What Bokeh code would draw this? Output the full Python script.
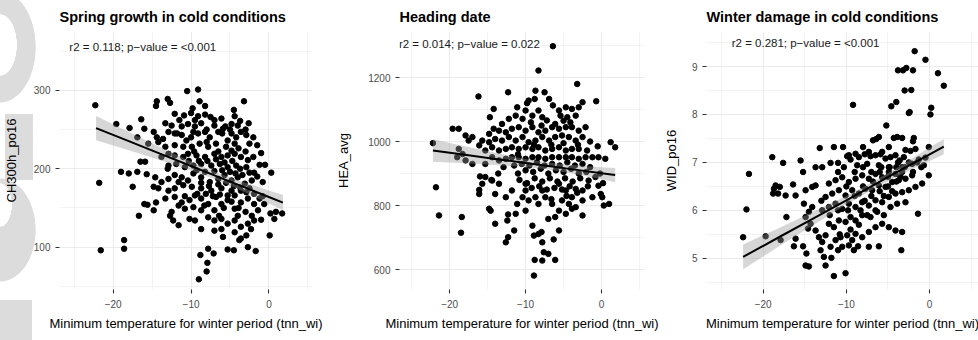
from bokeh.plotting import figure
from bokeh.layouts import row
from bokeh.models import FixedTicker, Label, Range1d
from bokeh.embed import file_html
from bokeh.resources import INLINE

FONT = "Liberation Sans"

# ---------------- data ----------------
x_ticks = [-20, -10, 0]
x_minor = [-25, -15, -5, 5]
x_tick_labels = {-20: "\u221220", -10: "\u221210", 0: "0"}

# Panel 1: CH300h_po16
p1_x = [-10.5, -9.1, -14.4, -14.5, -13.0, -12.7, -8.9, -8.2, -3.2, -9.8,
        -4.5, -22.3, -12.1, -13.3, -10.9, -10.0, -9.1, -8.2, -7.5, -7.0,
        -6.1, -4.4, -3.7, -2.6, -4.8, -5.6, -8.7, -9.5, -10.4, -11.2,
        -12.5, -16.4, -19.6, -17.9, -16.0, -14.8, -14.4, -12.9, -12.1, -11.2,
        -10.6, -9.7, -9.1, -8.2, -7.6, -6.5, -5.9, -4.8, -4.2, -3.6,
        -2.9, -2.5, -4.4, -5.3, -6.8, -8.0, -8.9, -9.9, -11.0, -12.1,
        -13.3, -14.2, -15.5, -16.9, -13.8, -12.9, -12.1, -11.0, -10.4, -9.3,
        -8.2, -7.0, -6.1, -5.3, -4.4, -3.6, -2.7, -2.9, -4.2, -5.3,
        -6.3, -7.4, -8.7, -9.7, -10.8, -11.9, -12.9, -15.9, -16.5, -19.0,
        -18.0, -16.9, -15.7, -14.6, -13.8, -12.9, -12.1, -11.2, -10.4, -9.7,
        -8.7, -7.6, -6.5, -5.7, -4.8, -4.0, -3.1, -1.9, -0.8, -14.2,
        -14.8, -12.9, -12.1, -11.0, -9.9, -8.7, -7.4, -6.1, -4.8, -3.6,
        -2.5, -17.5, -16.0, -15.6, -14.5, -13.3, -12.5, -12.1, -11.2, -10.2,
        -9.5, -8.7, -7.8, -6.8, -6.1, -5.3, -4.4, -3.6, -2.7, -1.9,
        -1.2, -0.6, 0.2, 0.9, 1.7, -1.4, -4.4, -7.0, -8.7, -9.7,
        -10.8, -11.6, -14.8, -12.7, -11.6, -12.3, -10.2, -8.7, -9.5, -7.8,
        -7.0, -6.1, -5.3, -4.4, -3.6, -2.7, -2.3, -1.9, 0.7, 0.1,
        -5.9, -7.0, -4.4, -3.8, -3.6, -2.9, -6.1, -8.8, -7.8, -7.9,
        -8.0, -9.0, -7.1, -5.3, -4.5, -2.7, -1.7, -18.6, -18.6, -21.6,
        -21.8, -16.7, -9.5, -8.0, -7.0, -6.0, -5.0, -4.0, -3.0, -2.0,
        -1.5, -1.0, -0.5, 0.3, -11.5, -10.0, -7.8, -6.5, -5.5, -4.8,
        -3.9, -3.0, -2.0, -1.2, -9.0, -7.9, -6.8, -5.7, -4.7, -3.7,
        -2.5, -1.5, -9.3, -8.2, -7.0, -6.0, -5.0, -4.3, -3.4, -2.2,
        -8.7, -7.7, -6.5, -5.5, -4.5, -3.7, -2.9, -1.9, -0.8, -9.2,
        -8.1, -7.2, -6.3, -5.3, -4.8, -3.9, -3.0, -2.2, -1.0, -5.8,
        -4.0, -6.4, -8.3, -10.8, -11.6, -13.0, -10.3, -9.6, -11.8, -13.6]
p1_y = [299, 301, 286, 280, 289, 284, 286, 280, 286, 277,
        275, 281, 270, 258, 268, 271, 267, 269, 266, 262,
        264, 267, 261, 258, 257, 254, 258, 254, 257, 254,
        255, 263, 257, 252, 251, 247, 240, 247, 245, 243,
        236, 247, 245, 247, 240, 247, 251, 245, 240, 247,
        243, 232, 232, 236, 232, 234, 232, 228, 228, 230,
        228, 234, 232, 240, 215, 219, 217, 215, 219, 217,
        215, 219, 215, 217, 219, 215, 211, 202, 204, 202,
        206, 204, 206, 204, 202, 206, 204, 209, 209, 196,
        194, 196, 193, 189, 183, 187, 192, 189, 185, 194,
        189, 183, 187, 192, 185, 189, 181, 195, 183, 175,
        177, 172, 175, 179, 177, 175, 172, 175, 172, 172,
        175, 177, 155, 154, 157, 162, 145, 164, 157, 160,
        166, 162, 155, 164, 155, 160, 166, 157, 162, 155,
        162, 155, 143, 145, 143, 147, 149, 147, 147, 151,
        149, 153, 147, 140, 128, 134, 136, 123, 134, 138,
        134, 136, 130, 134, 126, 130, 123, 134, 136, 115,
        113, 121, 119, 109, 111, 115, 123, 90, 98, 80,
        69, 59, 92, 97, 96, 100, 95, 109, 98, 96,
        182, 140, 262, 250, 255, 245, 250, 255, 250, 240,
        230, 220, 205, 195, 262, 240, 228, 222, 228, 223,
        226, 222, 215, 205, 210, 210, 212, 208, 210, 200,
        195, 190, 198, 196, 197, 198, 196, 194, 192, 185,
        182, 178, 180, 182, 178, 176, 170, 168, 165, 168,
        168, 165, 167, 166, 158, 150, 145, 140, 135, 150,
        140, 140, 153, 165, 183, 200, 210, 222, 245, 238]
p1_fit_x = [-22.2, -18, -14, -10, -7, -4, 0, 1.8]
p1_fit_y = [251.8, 235.2, 219.3, 203.5, 191.6, 179.7, 163.9, 156.8]
p1_fit_lo = [236.4, 223.6, 211.0, 197.9, 186.8, 174.1, 155.6, 147.1]
p1_fit_hi = [267.2, 246.8, 227.6, 209.1, 196.4, 185.3, 172.2, 166.5]
p1_yticks = [100, 200, 300]
p1_yminor = [50, 150, 250, 350]

# Panel 2: HEA_avg
p2_x = [-6.4, -8.3, -16.2, -12.3, -14.2, -14.7, -11.1, -9.6, -8.7, -8.8,
        -7.5, -6.9, -6.4, -5.6, -4.7, -3.9, -3.0, -3.2, -2.5, -0.7,
        -3.4, -4.5, -5.4, -6.1, -7.2, -7.8, -8.3, -9.1, -10.0, -10.4,
        -11.3, -12.2, -13.1, -13.5, -14.2, -14.8, -12.6, -11.8, -10.9, -10.0,
        -9.1, -8.3, -7.4, -6.5, -5.6, -4.7, -3.9, -3.0, -2.1, -2.5,
        -3.4, -4.3, -5.2, -6.1, -6.9, -7.8, -8.7, -9.6, -10.4, -11.3,
        -12.2, -13.1, -14.0, -14.8, -15.7, -17.0, -17.5, -17.9, -18.8, -19.6,
        -22.2, -16.1, -15.3, -14.4, -13.5, -12.6, -11.8, -10.9, -10.0, -9.1,
        -8.3, -7.4, -6.5, -5.6, -4.7, -3.9, -3.0, -1.9, 1.2, 1.8,
        0.5, -0.4, -1.2, -2.1, -3.0, -3.9, -4.7, -5.6, -6.5, -7.4,
        -8.3, -9.1, -10.0, -10.9, -11.8, -12.6, -13.5, -14.4, -15.3, -17.0,
        -17.9, -18.3, -18.8, -19.0, -21.8, -21.4, -18.4, -18.5, -16.0, -15.7,
        -16.1, -14.8, -14.6, -14.0, -12.6, -12.3, -12.4, -12.3, -11.5, -11.3,
        -11.1, -10.0, -9.6, -9.1, -8.9, -8.9, -8.8, -8.3, -7.9, -7.8,
        -7.8, -7.6, -7.0, -6.1, -6.3, -5.6, -7.0, -6.1, -4.7, -3.9,
        -3.4, -2.5, -4.3, -5.2, -2.5, -1.2, -0.4, -0.1, 0.3, 1.0,
        -5.6, -7.8, -10.0, -11.8, -13.5, -14.4, -15.3, -16.1, -4.7, -3.4,
        -1.7, -0.8, 0.1, -2.5, -6.5, -8.3, -10.0, -12.6, -14.0, -10.4,
        -8.7, -7.4, -5.6, -3.9, -11.0, -10.0, -9.0, -8.0, -7.0, -6.0,
        -5.0, -4.0, -3.0, -2.0, -11.5, -10.5, -9.5, -8.5, -7.5, -6.5,
        -5.5, -4.5, -3.5, -2.5, -1.5, -10.8, -9.8, -8.8, -7.8, -6.8,
        -5.8, -4.8, -3.8, -2.8, -1.8, -9.2, -8.2, -7.2, -6.2, -5.2,
        -4.2, -3.2, -6.6, -4.6, -9.3, -7.9, -6.6, -5.0, -3.1, -8.9,
        -11.0, -12.9, -13.6, -14.5, -9.8, -5.0, -4.1, -1.5, -0.5, -0.2,
        0.2]
p2_y = [1298, 1222, 1141, 1154, 1102, 1076, 1107, 1128, 1159, 1133,
        1154, 1133, 1113, 1097, 1107, 1102, 1107, 1180, 1123, 1126,
        1081, 1076, 1081, 1055, 1066, 1076, 1097, 1081, 1097, 1071,
        1081, 1071, 1055, 1034, 1040, 1024, 1029, 1040, 1045, 1034,
        1045, 1029, 1034, 1045, 1040, 1045, 1045, 1034, 1045, 1014,
        1003, 1014, 1019, 1014, 1003, 1014, 1003, 998, 1014, 1003,
        1014, 1003, 1008, 998, 1003, 1014, 1003, 1019, 1040, 1040,
        995, 988, 972, 982, 972, 977, 982, 977, 982, 977,
        982, 972, 977, 982, 972, 977, 977, 972, 998, 982,
        946, 951, 951, 951, 946, 951, 951, 951, 951, 946,
        951, 951, 946, 951, 951, 946, 941, 951, 930, 930,
        941, 961, 977, 951, 857, 769, 764, 715, 891, 868,
        849, 790, 784, 743, 685, 701, 753, 772, 722, 774,
        805, 784, 816, 737, 706, 581, 630, 711, 717, 685,
        628, 654, 649, 630, 694, 722, 758, 764, 774, 790,
        795, 769, 805, 816, 816, 826, 862, 836, 800, 805,
        868, 847, 847, 847, 868, 878, 889, 836, 847, 852,
        878, 889, 826, 847, 805, 805, 868, 826, 836, 826,
        826, 826, 784, 826, 900, 910, 905, 915, 900, 910,
        905, 915, 900, 905, 925, 930, 925, 935, 925, 930,
        925, 935, 925, 930, 920, 880, 870, 885, 875, 885,
        875, 885, 875, 885, 860, 855, 860, 850, 855, 850,
        860, 840, 820, 830, 1060, 1050, 990, 995, 990, 990,
        960, 920, 900, 880, 1120, 1065, 1060, 1000, 985, 900,
        870]
p2_fit_x = [-22.2, -18, -14, -10, -7, -4, 0, 1.8]
p2_fit_y = [972.0, 958.6, 945.8, 933.0, 923.4, 913.8, 901.0, 895.2]
p2_fit_lo = [936.8, 932.0, 926.9, 920.2, 912.4, 901.0, 882.1, 873.0]
p2_fit_hi = [1007.2, 985.2, 964.7, 945.8, 934.4, 926.6, 919.9, 917.4]
p2_yticks = [600, 800, 1000, 1200]
p2_yminor = [700, 900, 1100, 1300]

# Panel 3: WID_po16
p3_x = [-1.8, -0.5, 1.0, 1.7, -3.8, -3.2, -2.8, -2.0, -3.0, -2.2,
        -4.0, -4.6, -2.5, -2.4, 0.2, 0.1, -9.2, -5.2, -4.3, -3.9,
        -3.3, -1.9, -2.0, -6.8, -6.4, -6.1, -8.0, -1.7, -2.3, -2.9,
        -0.1, -10.4, -11.5, -13.2, -15.5, -18.9, -17.6, -4.9, -5.7, -7.3,
        -8.9, -9.7, -11.9, -11.0, -9.9, -9.5, -8.5, -7.8, -7.1, -6.5,
        -5.9, -5.3, -4.7, -4.1, -3.6, -3.1, -1.3, -0.7, -13.7, -12.9,
        -10.3, -8.7, -7.5, -6.1, -4.9, -3.3, -2.1, -21.7, -22.0, -22.4,
        -19.7, -17.9, -18.7, -18.5, -18.0, -18.8, -18.2, -17.3, -16.4, -16.1,
        -15.2, -17.2, -16.3, -15.2, -16.1, -14.8, -14.9, -14.5, -11.5, -10.1,
        -1.4, -3.4, -0.1, -14.9, -14.1, -13.7, -15.1, -14.5, -14.1, -14.9,
        -14.3, -14.6, -13.7, -13.3, -12.9, -12.5, -13.1, -12.7, -12.5, -11.8,
        -11.0, -10.5, -9.7, -9.1, -8.6, -7.3, -6.1, -11.9, -11.3, -10.7,
        -9.9, -9.3, -8.9, -8.1, -7.3, -6.5, -5.7, -4.9, -4.1, -3.3,
        -12.1, -11.5, -10.9, -10.1, -9.5, -8.9, -8.1, -7.1, -6.3, -5.5,
        -4.7, -3.9, -2.9, -12.9, -12.1, -11.3, -10.5, -9.7, -8.9, -8.1,
        -7.3, -6.5, -5.7, -4.9, -4.1, -3.3, -2.5, -1.7, -0.9, -12.5,
        -11.7, -10.9, -10.1, -9.3, -8.5, -7.7, -6.9, -6.1, -5.3, -4.5,
        -3.7, -2.9, -2.1, -12.1, -11.3, -10.5, -9.7, -8.9, -8.1, -7.3,
        -6.5, -5.7, -4.9, -4.1, -3.3, -9.0, -8.0, -7.0, -6.0, -5.0,
        -4.0, -3.0, -2.5, -10.0, -11.0, -9.5, -8.5, -7.5, -6.5, -5.5,
        -4.5, -3.5, -2.0, -1.0, -9.8, -8.3, -7.8, -6.8, -5.8, -4.8,
        -3.8, -1.5, -0.5, -10.8, -12.0, -13.0, -11.0, -9.0, -8.0, -7.0,
        -6.0, -5.0, -4.0]
p3_y = [9.32, 9.14, 8.86, 8.60, 8.92, 8.92, 8.97, 8.92, 8.50, 8.51,
        8.26, 8.17, 8.03, 8.05, 8.14, 8.00, 8.20, 7.77, 7.51, 7.53,
        7.51, 7.51, 7.44, 7.46, 7.49, 7.53, 7.32, 7.28, 7.24, 7.26,
        7.32, 7.32, 7.32, 7.30, 7.04, 7.11, 6.99, 7.32, 7.22, 7.22,
        7.18, 7.15, 6.99, 6.99, 7.13, 7.06, 7.11, 7.17, 7.13, 7.15,
        7.17, 7.08, 7.11, 7.15, 7.04, 7.11, 7.06, 6.94, 6.90, 6.90,
        6.90, 6.94, 6.97, 6.94, 6.90, 6.90, 6.97, 6.76, 6.02, 5.44,
        5.46, 5.38, 6.45, 6.52, 6.49, 6.35, 6.35, 6.31, 6.54, 6.31,
        6.80, 5.86, 5.25, 5.25, 5.41, 5.10, 4.85, 4.83, 4.63, 4.69,
        5.93, 5.17, 6.73, 6.42, 6.49, 6.52, 6.14, 5.97, 6.07, 5.86,
        5.72, 5.62, 5.58, 5.44, 5.34, 5.48, 5.17, 5.03, 4.85, 5.01,
        5.17, 5.24, 5.27, 5.17, 5.25, 5.24, 5.25, 5.24, 5.38, 5.44,
        5.48, 5.38, 5.51, 5.44, 5.55, 5.65, 5.72, 5.65, 5.58, 5.55,
        5.72, 5.65, 5.79, 5.76, 5.86, 5.79, 5.90, 5.86, 5.97, 5.90,
        6.07, 6.14, 6.17, 6.00, 6.07, 6.14, 6.03, 6.14, 6.07, 6.17,
        6.10, 6.21, 6.17, 6.28, 6.35, 6.38, 6.42, 6.49, 6.56, 6.28,
        6.35, 6.42, 6.31, 6.42, 6.35, 6.45, 6.42, 6.52, 6.49, 6.59,
        6.63, 6.66, 6.73, 6.56, 6.63, 6.69, 6.59, 6.66, 6.73, 6.66,
        6.76, 6.69, 6.80, 6.76, 6.80, 6.30, 6.50, 6.30, 6.40, 6.50,
        6.60, 6.90, 7.00, 6.50, 6.00, 5.60, 5.70, 5.90, 6.00, 6.30,
        6.40, 6.70, 6.80, 6.90, 6.00, 6.00, 6.20, 6.60, 6.90, 6.90,
        7.00, 7.00, 7.10, 5.50, 5.90, 6.20, 6.80, 6.80, 6.90, 6.80,
        6.80, 6.70, 6.90]
p3_fit_x = [-22.4, -18, -14, -10, -7, -4, 0, 1.7]
p3_fit_y = [5.03, 5.45, 5.83, 6.21, 6.50, 6.79, 7.17, 7.33]
p3_fit_lo = [4.77, 5.26, 5.69, 6.12, 6.42, 6.70, 7.03, 7.17]
p3_fit_hi = [5.29, 5.64, 5.97, 6.30, 6.58, 6.88, 7.31, 7.49]
p3_yticks = [5, 6, 7, 8, 9]
p3_yminor = [4.5, 5.5, 6.5, 7.5, 8.5, 9.5]

titles = ["Spring growth in cold conditions", "Heading date", "Winter damage in cold conditions"]
ylabels = ["CH300h_po16", "HEA_avg", "WID_po16"]
stats = ["r2 = 0.118; p\u2212value = <0.001",
         "r2 = 0.014; p\u2212value = 0.022",
         "r2 = 0.281; p\u2212value = <0.001"]
xtitle = "Minimum temperature for winter period (tnn_wi)"

# faint watermark that sits in the left margin of the source image
WM = "#dcdcdc"
watermark_css = {
    "background-image": ", ".join([
        "radial-gradient(ellipse 17px 31px at 0px 45px, #ffffff 98%, transparent 100%)",
        f"radial-gradient(ellipse 36px 56px at 0px 47px, {WM} 98%, transparent 100%)",
        "radial-gradient(ellipse 12px 22px at 0px 205px, #ffffff 97%, transparent 100%)",
        f"radial-gradient(ellipse 36px 52px at 0px 230px, {WM} 98%, transparent 100%)",
        f"linear-gradient({WM}, {WM})",
        f"linear-gradient({WM}, {WM})",
    ]),
    "background-repeat": "no-repeat",
    "background-size": "auto, auto, auto, auto, 28px 66px, 32px 42px",
    "background-position": "0 0, 0 0, 0 0, 0 0, 5px 114px, 0px 300px",
}


def panel(title, xs, ys, fx, fy, flo, fhi, xr, yr, yticks, yminor, ylabel,
          stat, stat_x, stat_y, width, bl, br, yl_standoff, css=None):
    p = figure(width=width, height=340, x_range=Range1d(*xr), y_range=Range1d(*yr),
               output_backend="svg", toolbar_location=None,
               min_border_left=bl, min_border_right=br, min_border_top=31,
               min_border_bottom=51)
    p.outline_line_color = None
    p.background_fill_color = "white"
    if css:
        p.border_fill_alpha = 0
        p.styles = css
    else:
        p.border_fill_color = "white"
    p.xaxis.ticker = FixedTicker(ticks=x_ticks, minor_ticks=x_minor)
    p.yaxis.ticker = FixedTicker(ticks=yticks, minor_ticks=yminor)
    p.xaxis.major_label_overrides = x_tick_labels
    for g in (p.xgrid, p.ygrid):
        g.grid_line_color = "#ebebeb"
        g.grid_line_width = 1.1
        g.minor_grid_line_color = "#f0f0f0"
        g.minor_grid_line_width = 0.8
    for ax in (p.xaxis[0], p.yaxis[0]):
        ax.axis_line_color = None
        ax.major_tick_line_color = "#333333"
        ax.major_tick_line_width = 1.1
        ax.major_tick_out = 4
        ax.major_tick_in = 0
        ax.minor_tick_line_color = None
        ax.major_label_text_font = FONT
        ax.major_label_text_font_size = "10px"
        ax.major_label_text_color = "#4d4d4d"
        ax.axis_label_text_font = FONT
        ax.axis_label_text_font_size = "13px"
        ax.axis_label_text_font_style = "normal"
        ax.axis_label_text_color = "#000000"
    p.yaxis.major_label_standoff = 5
    p.xaxis.major_label_standoff = 6
    p.yaxis.axis_label = ylabel
    p.yaxis.axis_label_standoff = yl_standoff
    p.xaxis.axis_label = xtitle
    p.xaxis.axis_label_standoff = 5

    p.title.text = title
    p.title.text_font = FONT
    p.title.text_font_size = "14.5px"
    p.title.text_font_style = "bold"
    p.title.text_color = "#000000"
    p.title.align = "left"
    p.title.offset = 0
    p.title.standoff = 13

    p.scatter(xs, ys, size=5.5, color="#000000", line_color="#000000")
    p.varea(x=fx, y1=flo, y2=fhi, fill_color="#999999", fill_alpha=0.4)
    p.line(fx, fy, line_color="#000000", line_width=2)

    p.add_layout(Label(x=stat_x, y=stat_y, text=stat, text_align="center",
                       text_baseline="middle", text_font=FONT,
                       text_font_size="11.5px", text_color="#1a1a1a"))
    return p


f1 = panel(titles[0], p1_x, p1_y, p1_fit_x, p1_fit_y, p1_fit_lo, p1_fit_hi,
           (-26.9, 5.6), (46, 375), p1_yticks, p1_yminor, ylabels[0],
           stats[0], -16.2, 355, 333, 57, 21, 12, css=watermark_css)
f2 = panel(titles[1], p2_x, p2_y, p2_fit_x, p2_fit_y, p2_fit_lo, p2_fit_hi,
           (-26.6, 5.66), (537.5, 1344), p2_yticks, p2_yminor, ylabels[1],
           stats[1], -17.4, 1306, 327, 66, 16, 14)
f3 = panel(titles[2], p3_x, p3_y, p3_fit_x, p3_fit_y, p3_fit_lo, p3_fit_hi,
           (-26.8, 5.87), (4.35, 9.73), p3_yticks, p3_yminor, ylabels[2],
           stats[2], -14.9, 9.48, 318, 45, 0, 10)

layout = row(f1, f2, f3)
open("out.html", "w").write(file_html(layout, INLINE, title="tnn_wi scatter"))
